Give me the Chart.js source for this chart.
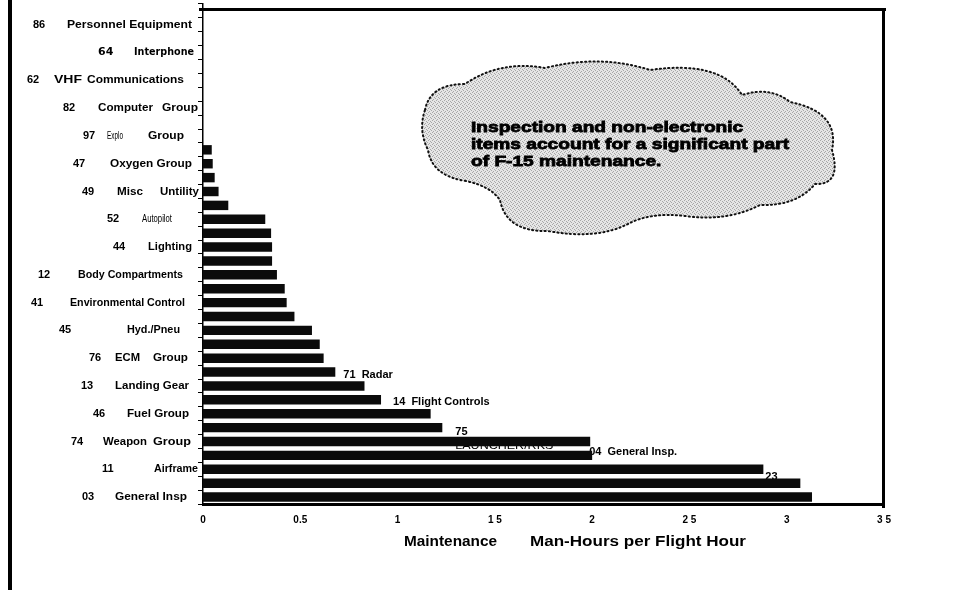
<!DOCTYPE html>
<html>
<head>
<meta charset="utf-8">
<script src="https://cdn.jsdelivr.net/npm/chart.js@4.4.1/dist/chart.umd.min.js"></script>
<style>
  html, body { margin: 0; padding: 0; background: #fff; }
  #wrap { position: relative; width: 972px; height: 590px; }
</style>
</head>
<body>
<div id="wrap"><canvas id="barChart" width="972" height="590"></canvas></div>
<script>
// work unit codes and systems, top row first
const codes = ['', '86', '', '64', '', '62', '', '82', '', '97',
  '', '47', '', '49', '', '52', '', '44', '', '12',
  '', '41', '', '45', '', '76', '71', '13', '14', '46',
  '75', '74', '04', '11', '23', '03'];
const systems = ['', 'Personnel Equipment', '', 'Interphone', '', 'VHF  Communications', '', 'Computer  Group', '', 'Explo  Group',
  '', 'Oxygen Group', '', 'Misc  Untility', '', 'Autopilot', '', 'Lighting', '', 'Body Compartments',
  '', 'Environmental Control', '', 'Hyd./Pneu', '', 'ECM  Group', 'Radar', 'Landing Gear', 'Flight Controls', 'Fuel Group',
  'LAUNCHER/RKS', 'Weapon  Group', 'General Insp.', 'Airframe', '', 'General Insp'];
const manHours = [0, 0, 0, 0, 0, 0, 0, 0, 0, 0,
  0.045, 0.05, 0.06, 0.08, 0.13, 0.32, 0.35, 0.355, 0.355, 0.38,
  0.42, 0.43, 0.47, 0.56, 0.60, 0.62, 0.68, 0.83, 0.915, 1.17,
  1.23, 1.99, 2.00, 2.88, 3.07, 3.13];
const xTickLabels = ['0', '0.5', '1', '1 5', '2', '2 5', '3', '3 5'];
const xTitle = ['Maintenance', 'Man-Hours per Flight Hour'];
const callout = ['Inspection and non-electronic', 'items account for a significant part', 'of F-15 maintenance.'];

// where the scanned labels sit (pixels) - layout only
const leftLayout = {
  1: { code: 33, parts: [[67, 125]] },
  3: { code: 98, parts: [[134, 60]], font: 'heavy' },
  5: { code: 27, parts: [[54, 28], [87, 97]] },
  7: { code: 63, parts: [[98, 55], [162, 36]] },
  9: { code: 83, parts: [[107, 16, 'narrow'], [148, 36]] },
  11: { code: 73, parts: [[110, 82]] },
  13: { code: 82, parts: [[117, 26], [160, 39]] },
  15: { code: 107, parts: [[142, 30, 'narrow']] },
  17: { code: 113, parts: [[148, 44]] },
  19: { code: 38, parts: [[78, 105]] },
  21: { code: 31, parts: [[70, 115]] },
  23: { code: 59, parts: [[127, 53]] },
  25: { code: 89, parts: [[115, 25], [153, 35]] },
  27: { code: 81, parts: [[115, 74]] },
  29: { code: 93, parts: [[127, 62]] },
  31: { code: 71, parts: [[103, 44], [153, 38]] },
  33: { code: 102, parts: [[154, 44]] },
  35: { code: 82, parts: [[115, 72]] }
};
const noteLayout = {
  26: { dx: 8, dy: 3 },
  28: { dx: 12, dy: 2 },
  30: { dx: 13, dy: 4, wrap: true },
  32: { dx: -3, dy: -3 },
  34: { dx: -35, dy: -6 }
};

const fonts = {
  label: 'bold 11px "Liberation Sans", Arial, sans-serif',
  heavy: 'bold 11px "DejaVu Sans", sans-serif',
  narrow: '10px "Liberation Sans Narrow", "Liberation Sans", sans-serif',
  plain: '11px "Liberation Sans", Arial, sans-serif',
  title: 'bold 14px "Liberation Sans", Arial, sans-serif',
  cloud: 'bold 15px "Liberation Sans", Arial, sans-serif'
};

const fitText = (ctx, text, x, y, w, font) => {
  ctx.font = font;
  const m = ctx.measureText(text).width;
  ctx.save();
  ctx.translate(x, y);
  ctx.scale(w / m, 1);
  ctx.fillText(text, 0, 0);
  ctx.restore();
};

const stipple = () => {
  const c = document.createElement('canvas');
  c.width = 4; c.height = 4;
  const g = c.getContext('2d');
  g.fillStyle = '#e6e6e6';
  g.fillRect(0, 0, 4, 4);
  g.fillStyle = '#a8a8a8';
  [[0, 0], [2, 1], [1, 3], [3, 2]].forEach(([a, b]) => g.fillRect(a, b, 1, 1));
  return c;
};

const cloudPath = (ctx) => {
  ctx.beginPath();
  ctx.moveTo(425, 110);
  ctx.quadraticCurveTo(430, 84, 465, 84);
  ctx.quadraticCurveTo(500, 60, 545, 68);
  ctx.quadraticCurveTo(600, 54, 650, 70);
  ctx.quadraticCurveTo(720, 60, 742, 95);
  ctx.quadraticCurveTo(770, 86, 790, 102);
  ctx.quadraticCurveTo(840, 112, 832, 150);
  ctx.quadraticCurveTo(842, 185, 815, 184);
  ctx.quadraticCurveTo(797, 206, 760, 205);
  ctx.quadraticCurveTo(727, 222, 685, 216);
  ctx.quadraticCurveTo(650, 212, 628, 224);
  ctx.quadraticCurveTo(596, 240, 548, 231);
  ctx.quadraticCurveTo(506, 232, 500, 200);
  ctx.quadraticCurveTo(490, 186, 466, 181);
  ctx.quadraticCurveTo(432, 176, 428, 150);
  ctx.quadraticCurveTo(418, 130, 425, 110);
  ctx.closePath();
};

const scanText = {
  id: 'scanText',
  beforeDatasetsDraw(chart) {
    const ctx = chart.ctx;
    const xs = chart.scales.x, ys = chart.scales.y;
    ctx.save();
    ctx.fillStyle = '#000';
    ctx.textBaseline = 'middle';
    ctx.textAlign = 'left';
    Object.keys(noteLayout).forEach(k => {
      const t = +k, n = noteLayout[k];
      const x = xs.getPixelForValue(manHours[t]) + n.dx;
      const y = ys.getPixelForValue(t) + n.dy;
      ctx.font = fonts.label;
      if (n.wrap) {
        ctx.fillText(codes[t], x, y);
        fitText(ctx, systems[t], x, y + 14, 98, fonts.plain);
      } else {
        ctx.fillText(systems[t] ? codes[t] + '  ' + systems[t] : codes[t], x, y);
      }
    });
    ctx.restore();
  },
  afterDraw(chart) {
    const ctx = chart.ctx;
    const ys = chart.scales.y;
    ctx.save();
    ctx.fillStyle = '#000';
    ctx.textBaseline = 'middle';
    ctx.textAlign = 'left';

    // row labels on the left
    Object.keys(leftLayout).forEach(k => {
      const t = +k, L = leftLayout[k];
      const y = ys.getPixelForValue(t);
      ctx.font = L.font === 'heavy' ? fonts.heavy : fonts.label;
      ctx.fillText(codes[t], L.code, y);
      const parts = systems[t].split(/\s{2,}/);
      parts.forEach((p, i) => {
        const [px, pw, f] = L.parts[i];
        fitText(ctx, p, px, y, pw, fonts[f || L.font || 'label']);
      });
    });

    // axis title
    fitText(ctx, xTitle[0], 404, 542, 93, fonts.title);
    fitText(ctx, xTitle[1], 530, 542, 216, fonts.title);

    // callout cloud
    cloudPath(ctx);
    ctx.fillStyle = ctx.createPattern(stipple(), 'repeat');
    ctx.fill();
    ctx.setLineDash([1.2, 3]);
    ctx.lineCap = 'round';
    ctx.lineWidth = 2;
    ctx.strokeStyle = '#111';
    ctx.stroke();
    ctx.setLineDash([]);
    ctx.fillStyle = '#000';
    ctx.strokeStyle = '#000';
    ctx.lineWidth = 0.8;
    ctx.font = fonts.cloud;
    const k2 = 318 / ctx.measureText(callout[1]).width;
    callout.forEach((line, i) => {
      const y = 128 + i * 17;
      ctx.save();
      ctx.translate(471, y);
      ctx.scale(k2, 1);
      ctx.fillText(line, 0, 0);
      ctx.strokeText(line, 0, 0);
      ctx.restore();
    });

    // scanned page frame
    ctx.fillStyle = '#000';
    ctx.fillRect(8, 0, 4, 590);
    ctx.fillRect(199, 8, 687, 3);
    ctx.fillRect(882, 8, 3, 500);
    ctx.restore();
  }
};

const drawBarChart = () => {
  const ctx = document.getElementById('barChart').getContext('2d');
  new Chart(ctx, {
    type: 'bar',
    data: {
      labels: systems,
      datasets: [{
        data: manHours,
        backgroundColor: '#0b0b0b',
        borderWidth: 0,
        barPercentage: 0.68,
        categoryPercentage: 1
      }]
    },
    options: {
      indexAxis: 'y',
      responsive: false,
      animation: false,
      layout: { padding: { top: 4, right: 88, left: 0, bottom: 0 } },
      plugins: {
        legend: { display: false },
        tooltip: { enabled: false }
      },
      scales: {
        x: {
          min: 0,
          max: 3.5,
          afterFit: (scale) => { scale.height = 86; },
          grid: { display: false, drawTicks: false },
          border: { display: true, color: '#000', width: 3 },
          ticks: {
            stepSize: 0.5,
            padding: 10,
            color: '#000',
            font: { family: '"Liberation Sans", Arial, sans-serif', size: 10, weight: 'bold' },
            callback: (v, i) => xTickLabels[i]
          }
        },
        y: {
          afterFit: (scale) => { scale.width = 203; },
          grid: { drawOnChartArea: false, drawTicks: true, tickLength: 5, color: '#000', lineWidth: 1 },
          border: { display: true, color: '#000', width: 1.5 },
          ticks: { display: false }
        }
      }
    },
    plugins: [scanText]
  });
};

drawBarChart();
</script>
</body>
</html>
